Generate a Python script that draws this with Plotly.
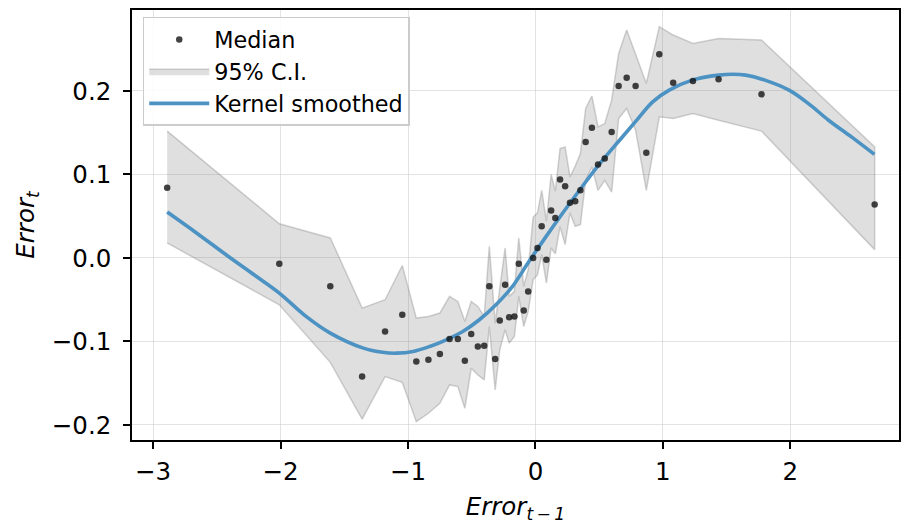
import plotly.graph_objects as go

# Median points
med_x = [-2.89, -2.01, -1.61, -1.36, -1.18, -1.045, -0.935, -0.840, -0.75, -0.674,
         -0.609, -0.554, -0.504, -0.452, -0.402, -0.362, -0.316, -0.280, -0.238, -0.206,
         -0.165, -0.131, -0.092, -0.057, -0.018, 0.016, 0.049, 0.086, 0.123, 0.156,
         0.193, 0.233, 0.271, 0.312, 0.353, 0.394, 0.443, 0.491, 0.544, 0.598,
         0.653, 0.716, 0.786, 0.870, 0.972, 1.081, 1.236, 1.437, 1.774, 2.662]
med_y = [0.084, -0.007, -0.034, -0.142, -0.088, -0.068, -0.124, -0.122, -0.115, -0.097,
         -0.097, -0.123, -0.091, -0.106, -0.105, -0.034, -0.121, -0.075, -0.032, -0.071,
         -0.070, -0.007, -0.063, -0.040, 0.000, 0.012, 0.038, -0.002, 0.057, 0.048,
         0.094, 0.086, 0.066, 0.068, 0.081, 0.139, 0.156, 0.112, 0.119, 0.151,
         0.206, 0.216, 0.206, 0.126, 0.244, 0.210, 0.212, 0.214, 0.196, 0.064]
ci_upper = [0.152, 0.041, 0.024, -0.060, -0.050, -0.009, -0.072, -0.070, -0.066, -0.046,
            -0.052, -0.076, -0.052, -0.058, -0.070, 0.014, -0.078, -0.036, 0.012, -0.046,
            -0.040, 0.024, -0.034, -0.014, 0.049, 0.054, 0.081, 0.044, 0.100, 0.080,
            0.131, 0.133, 0.097, 0.110, 0.125, 0.179, 0.194, 0.157, 0.161, 0.189,
            0.245, 0.273, 0.245, 0.209, 0.277, 0.267, 0.257, 0.263, 0.261, 0.133]
ci_lower = [0.018, -0.056, -0.125, -0.193, -0.142, -0.149, -0.196, -0.186, -0.174, -0.152,
            -0.154, -0.180, -0.132, -0.140, -0.146, -0.082, -0.158, -0.110, -0.086, -0.102,
            -0.094, -0.046, -0.082, -0.064, -0.026, -0.020, 0.004, -0.030, 0.012, 0.005,
            0.0375, 0.016, 0.054, 0.038, 0.040, 0.093, 0.109, 0.081, 0.093, 0.079,
            0.167, 0.179, 0.153, 0.081, 0.169, 0.167, 0.173, 0.165, 0.152, 0.010]

# Kernel smoothed curve
ks_x = [-2.89, -2.66, -2.42, -2.2, -2.01, -1.8, -1.61, -1.35, -1.2, -1.09, -0.96, -0.83,
        -0.70, -0.57, -0.44, -0.31, -0.18, -0.05, 0.08, 0.21, 0.35, 0.5, 0.66, 0.8, 0.92,
        1.05, 1.23, 1.44, 1.55, 1.65, 1.8, 1.99, 2.15, 2.30, 2.48, 2.66]
ks_y = [0.055, 0.030, 0.003, -0.021, -0.042, -0.070, -0.090, -0.108, -0.113, -0.114, -0.112, -0.106,
        -0.098, -0.088, -0.074, -0.056, -0.034, -0.004, 0.025, 0.053, 0.082, 0.112, 0.141, 0.166, 0.187,
        0.201, 0.213, 0.219, 0.220, 0.219, 0.213, 0.201, 0.184, 0.165, 0.145, 0.124]

x_ticks = [-3, -2, -1, 0, 1, 2]
x_ticktext = ["\u22123", "\u22122", "\u22121", "0", "1", "2"]
y_ticks = [-0.2, -0.1, 0.0, 0.1, 0.2]
y_ticktext = ["\u22120.2", "\u22120.1", "0.0", "0.1", "0.2"]

FS = 24.5

fig = go.Figure()
fig.add_trace(go.Scatter(
    x=med_x + med_x[::-1], y=ci_upper + ci_lower[::-1],
    fill="toself", mode="lines", name="95% C.I.",
    fillcolor="rgba(128,128,128,0.25)",
    line=dict(color="rgba(128,128,128,0.35)", width=1.5),
    legendrank=2, hoverinfo="skip"))
fig.add_trace(go.Scatter(
    x=ks_x, y=ks_y, mode="lines", name="Kernel smoothed",
    line=dict(color="#4c92c3", width=3.6), line_shape="spline", legendrank=3))
fig.add_trace(go.Scatter(
    x=med_x, y=med_y, mode="markers", name="Median",
    marker=dict(color="rgba(20,20,20,0.8)", size=6.5), legendrank=1))

axis_common = dict(
    showline=True, linecolor="black", linewidth=1.6, mirror=True,
    ticks="outside", ticklen=7, tickwidth=1.6, tickcolor="black",
    showgrid=True, gridcolor="rgba(200,200,200,0.5)", gridwidth=1.3,
    zeroline=False, tickfont=dict(size=FS, color="black"), automargin=False,
)
fig.update_layout(
    width=901, height=524,
    margin=dict(l=132, r=2, t=10, b=84),
    paper_bgcolor="white", plot_bgcolor="white",
    font=dict(family="DejaVu Sans", color="black"),
    xaxis=dict(range=[-3.166, 2.853], tickvals=x_ticks, ticktext=x_ticktext,
               ticklabelstandoff=2,
               title=dict(text="<i>Error</i><sub><i>t\u2009\u2212\u20091</i></sub>", font=dict(size=FS), standoff=14),
               **axis_common),
    yaxis=dict(range=[-0.218, 0.297], tickvals=y_ticks, ticktext=y_ticktext,
               ticklabelstandoff=7,
               title=dict(text="<i>Error</i><sub><i>t</i></sub>", font=dict(size=FS), standoff=10),
               **axis_common),
    legend=dict(x=0.014, y=0.984, xanchor="left", yanchor="top",
                bgcolor="rgba(255,255,255,0.85)", bordercolor="#cccccc", borderwidth=1.5,
                font=dict(size=22.3), traceorder="normal", tracegroupgap=2,
                itemwidth=60),
    showlegend=True,
)
fig.write_html(
    "out.html",
    config={"displayModeBar": False},
    post_script="document.body.style.margin='0';document.body.style.overflow='hidden';",
)
